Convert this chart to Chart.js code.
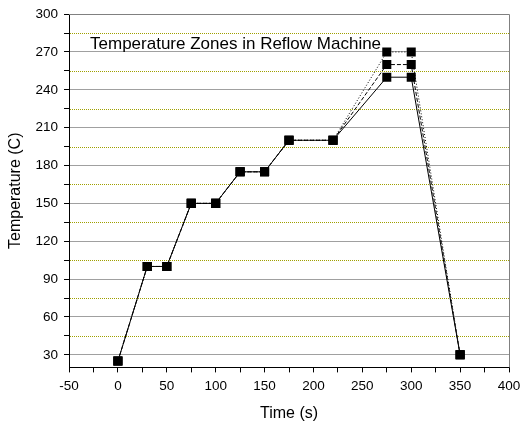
<!DOCTYPE html>
<html>
<head>
<meta charset="utf-8">
<style>
  html, body { margin: 0; padding: 0; background: #fff; }
  #wrap { width: 521px; height: 425px; }
</style>
<script src="https://cdn.jsdelivr.net/npm/chart.js@4.4.1/dist/chart.umd.min.js"></script>
</head>
<body>
<div id="wrap"><canvas id="myChart" width="521" height="425"></canvas></div>
<script>
// reflow profile, three zone settings
const times = [0, 30, 50, 75, 100, 125, 150, 175, 220, 275, 300, 350];
const tempLow = [25, 100, 100, 150, 150, 175, 175, 200, 200, 250, 250, 30];
const tempMid = [25, 100, 100, 150, 150, 175, 175, 200, 200, 260, 260, 30];
const tempHigh = [25, 100, 100, 150, 150, 175, 175, 200, 200, 270, 270, 30];

const xTicks = [-50, -25, 0, 25, 50, 75, 100, 125, 150, 175, 200, 225, 250, 275, 300, 325, 350, 375, 400];
const yTicks = [30, 45, 60, 75, 90, 105, 120, 135, 150, 165, 180, 195, 210, 225, 240, 255, 270, 285, 300];
const yMinorGrid = [45, 75, 105, 135, 165, 195, 225, 255, 285];
const noteText = 'Temperature Zones in Reflow Machine';

const pts = (ys) => times.map((t, i) => ({ x: t, y: ys[i] }));

const mkSet = (ys, dash) => ({
    data: pts(ys),
    showLine: true,
    borderColor: '#000',
    backgroundColor: '#000',
    borderWidth: 1,
    borderDash: dash,
    pointStyle: 'rect',
    pointRadius: 6.4,
    pointHoverRadius: 6.4,
    pointBorderWidth: 0,
    tension: 0
});

const family = '"Liberation Sans", Arial, sans-serif';

// dotted olive lines at the minor y positions
const minorGrid = {
    id: 'minorGrid',
    beforeDatasetsDraw(chart) {
        const { ctx, chartArea: a, scales } = chart;
        ctx.save();
        ctx.strokeStyle = '#a0a000';
        ctx.lineWidth = 1;
        ctx.setLineDash([1, 1]);
        yMinorGrid.forEach(v => {
            const py = Math.round(scales.y.getPixelForValue(v)) + 0.5;
            ctx.beginPath();
            ctx.moveTo(Math.round(a.left) + 1, py);
            ctx.lineTo(Math.round(a.right), py);
            ctx.stroke();
        });
        ctx.restore();
    }
};

// frame on top/right + the note text
const extras = {
    id: 'extras',
    afterDatasetsDraw(chart) {
        const { ctx, chartArea: a, scales } = chart;
        ctx.save();
        ctx.strokeStyle = '#808080';
        ctx.lineWidth = 1;
        ctx.beginPath();
        ctx.moveTo(a.left, Math.round(a.top) + 0.5);
        ctx.lineTo(Math.round(a.right) + 0.5, Math.round(a.top) + 0.5);
        ctx.lineTo(Math.round(a.right) + 0.5, a.bottom);
        ctx.stroke();
        ctx.fillStyle = '#000';
        ctx.font = '17px ' + family;
        ctx.textBaseline = 'middle';
        ctx.fillText(noteText, scales.x.getPixelForValue(-28.5), scales.y.getPixelForValue(276));
        ctx.restore();
    }
};

const ctx = document.getElementById('myChart');
const font = { family: family, size: 13.5 };

new Chart(ctx, {
    type: 'scatter',
    data: {
        datasets: [
            mkSet(tempHigh, [1, 2]),
            mkSet(tempMid, [4, 2]),
            mkSet(tempLow, [])
        ]
    },
    options: {
        responsive: false,
        animation: false,
        layout: { padding: { top: 12, right: 0, left: 1.3, bottom: 0 } },
        plugins: { legend: { display: false }, tooltip: { enabled: false } },
        scales: {
            x: {
                type: 'linear',
                min: -50,
                max: 400,
                afterBuildTicks: (s) => { s.ticks = xTicks.map(v => ({ value: v })); },
                afterFit: (s) => { s.paddingRight = 12; },
                ticks: {
                    autoSkip: false,
                    maxRotation: 0,
                    color: '#000',
                    font: font,
                    padding: 5.6,
                    callback: (v) => (v % 50 === 0 ? String(v) : '')
                },
                grid: {
                    drawOnChartArea: false,
                    tickLength: 5,
                    tickColor: '#000'
                },
                border: { color: '#000', width: 1 },
                title: {
                    display: true,
                    text: 'Time (s)',
                    color: '#000',
                    font: { family: family, size: 16 },
                    padding: { top: 4, bottom: 2 }
                }
            },
            y: {
                type: 'linear',
                min: 20,
                max: 300,
                afterBuildTicks: (s) => { s.ticks = yTicks.map(v => ({ value: v })); },
                ticks: {
                    autoSkip: false,
                    color: '#000',
                    font: font,
                    padding: 6,
                    callback: (v) => (v % 30 === 0 ? String(v) : '')
                },
                grid: {
                    color: (c) => (c.tick && c.tick.value % 30 === 0 ? '#a0a0a0' : 'rgba(0,0,0,0)'),
                    tickColor: '#000',
                    tickLength: 5
                },
                border: { color: '#000', width: 1 },
                title: {
                    display: true,
                    text: 'Temperature (C)',
                    color: '#000',
                    font: { family: family, size: 16 },
                    padding: { top: 5, bottom: 4 }
                }
            }
        }
    },
    plugins: [minorGrid, extras]
});
</script>
</body>
</html>
